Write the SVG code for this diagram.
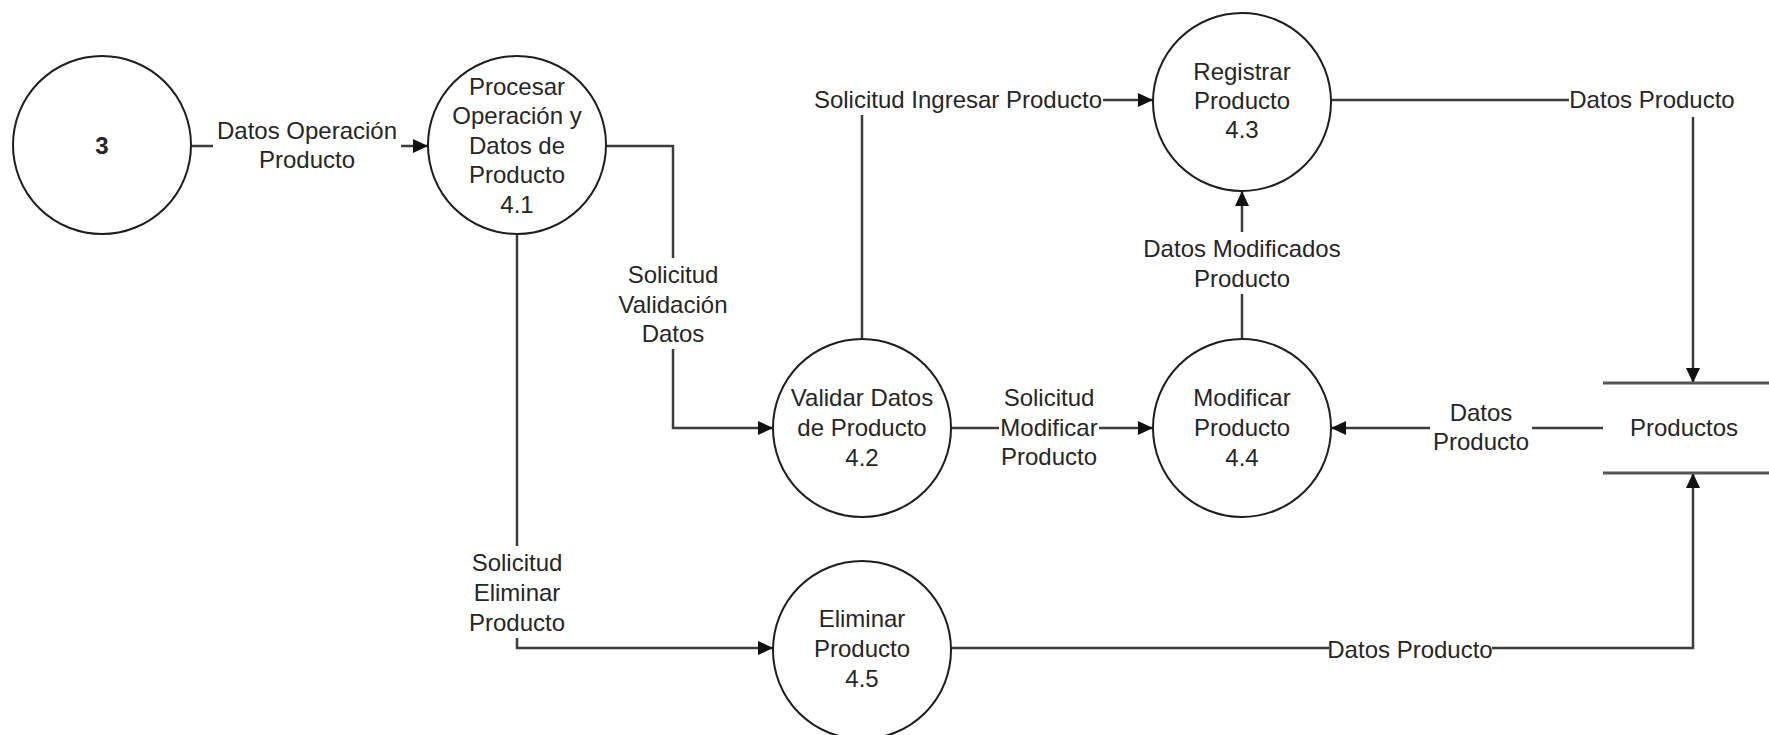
<svg xmlns="http://www.w3.org/2000/svg" width="1769" height="735" viewBox="0 0 1769 735">
  <style>
    text { font-family: "Liberation Sans", Arial, sans-serif; font-size: 24px; fill: #262626; text-anchor: middle; }
    .num { font-weight: bold; }
    .proc { fill: #ffffff; stroke: #1e1e1e; stroke-width: 2; }
    .flow { fill: none; stroke: #3c3c3c; stroke-width: 2.5; }
    .flow.arr { marker-end: url(#head); }
    .store { stroke: #555555; stroke-width: 3; }
    .lbg { fill: #ffffff; }
  </style>
  <defs>
    <marker id="head" markerUnits="userSpaceOnUse" markerWidth="16" markerHeight="14" refX="15" refY="7" orient="auto">
      <path d="M0,0 L15,7 L0,14 z" fill="#111111"/>
    </marker>
  </defs>
  <rect width="1769" height="735" fill="#ffffff"/>

  <!-- data flows -->
  <g id="connectors">
    <path class="flow arr" d="M191,146 H428"/>
    <path class="flow arr" d="M606,146 H673 V428 H773"/>
    <path class="flow arr" d="M862,339 V100 H1153"/>
    <path class="flow arr" d="M1331,100 H1693 V383"/>
    <path class="flow arr" d="M1242,339 V191"/>
    <path class="flow arr" d="M951,428 H1153"/>
    <path class="flow arr" d="M1603,428 H1331"/>
    <path class="flow arr" d="M517,233 V648 H773"/>
    <path class="flow arr" d="M951,648 H1693 V473"/>

    <!-- flow labels -->
    <g id="lbl-datos-operacion">
      <rect class="lbg" x="213" y="115" width="188" height="59"/>
      <text x="307" y="138.5">Datos Operación</text>
      <text x="307" y="167.5">Producto</text>
    </g>
    <g id="lbl-solicitud-validacion">
      <rect class="lbg" x="616" y="258" width="114" height="91"/>
      <text x="673" y="282.5">Solicitud</text>
      <text x="673" y="312.5">Validación</text>
      <text x="673" y="341.5">Datos</text>
    </g>
    <g id="lbl-solicitud-ingresar">
      <rect class="lbg" x="810" y="84" width="293" height="31"/>
      <text x="958" y="107.5">Solicitud Ingresar Producto</text>
    </g>
    <g id="lbl-datos-producto-43">
      <rect class="lbg" x="1569" y="84" width="169" height="33"/>
      <text x="1652" y="107.5">Datos Producto</text>
    </g>
    <g id="lbl-datos-modificados">
      <rect class="lbg" x="1142" y="232" width="200" height="62"/>
      <text x="1242" y="256.5">Datos Modificados</text>
      <text x="1242" y="286.5">Producto</text>
    </g>
    <g id="lbl-solicitud-modificar">
      <rect class="lbg" x="999" y="381" width="100" height="91"/>
      <text x="1049" y="405.5">Solicitud</text>
      <text x="1049" y="435.5">Modificar</text>
      <text x="1049" y="464.5">Producto</text>
    </g>
    <g id="lbl-datos-producto-44">
      <rect class="lbg" x="1430" y="396" width="102" height="61"/>
      <text x="1481" y="420.5">Datos</text>
      <text x="1481" y="449.5">Producto</text>
    </g>
    <g id="lbl-solicitud-eliminar">
      <rect class="lbg" x="469" y="546" width="96" height="92"/>
      <text x="517" y="570.5">Solicitud</text>
      <text x="517" y="600.5">Eliminar</text>
      <text x="517" y="630.5">Producto</text>
    </g>
    <g id="lbl-datos-producto-45">
      <rect class="lbg" x="1329" y="634" width="163" height="30"/>
      <text x="1410" y="657.5">Datos Producto</text>
    </g>
  </g>

  <!-- external entity / processes -->
  <g id="node-3">
    <circle class="proc" cx="102" cy="145" r="89"/>
    <text class="num" x="102" y="153.5">3</text>
  </g>
  <g id="node-4-1">
    <circle class="proc" cx="517" cy="145" r="89"/>
    <text x="517" y="94.5">Procesar</text>
    <text x="517" y="124">Operación y</text>
    <text x="517" y="153.5">Datos de</text>
    <text x="517" y="183">Producto</text>
    <text x="517" y="212.5">4.1</text>
  </g>
  <g id="node-4-2">
    <circle class="proc" cx="862" cy="428" r="89"/>
    <text x="862" y="405.5">Validar Datos</text>
    <text x="862" y="435.5">de Producto</text>
    <text x="862" y="465.5">4.2</text>
  </g>
  <g id="node-4-3">
    <circle class="proc" cx="1242" cy="102" r="89"/>
    <text x="1242" y="79.5">Registrar</text>
    <text x="1242" y="108.5">Producto</text>
    <text x="1242" y="137.5">4.3</text>
  </g>
  <g id="node-4-4">
    <circle class="proc" cx="1242" cy="428" r="89"/>
    <text x="1242" y="405.5">Modificar</text>
    <text x="1242" y="435.5">Producto</text>
    <text x="1242" y="465.5">4.4</text>
  </g>
  <g id="node-4-5">
    <circle class="proc" cx="862" cy="650" r="89"/>
    <text x="862" y="626.5">Eliminar</text>
    <text x="862" y="656.5">Producto</text>
    <text x="862" y="686.5">4.5</text>
  </g>

  <!-- data store -->
  <g id="store-productos">
    <line class="store" x1="1603" y1="383" x2="1769" y2="383"/>
    <line class="store" x1="1603" y1="473" x2="1769" y2="473"/>
    <text x="1684" y="435.5">Productos</text>
  </g>
</svg>
